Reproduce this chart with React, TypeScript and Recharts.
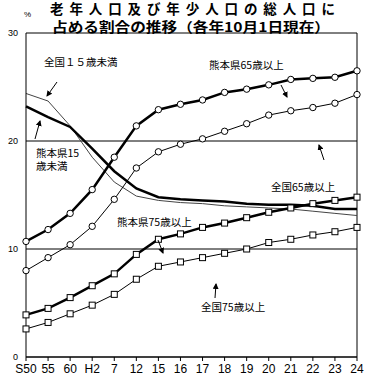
import { LineChart, Line, XAxis, YAxis, CartesianGrid, ReferenceLine } from "recharts";

const years = ["S50", "55", "60", "H2", "7", "12", "15", "16", "17", "18", "19", "20", "21", "22", "23", "24"];

// 熊本県 / 全国 (%)
const kumamoto65 = [10.7, 11.8, 13.3, 15.5, 18.5, 21.4, 22.9, 23.4, 23.8, 24.5, 24.8, 25.2, 25.7, 25.8, 25.9, 26.5];
const zenkoku65 = [8.0, 9.2, 10.4, 12.1, 14.6, 17.5, 19.0, 19.7, 20.2, 20.9, 21.6, 22.4, 22.8, 23.1, 23.5, 24.3];
const kumamoto75 = [3.9, 4.5, 5.5, 6.6, 7.7, 9.5, 10.9, 11.4, 12.0, 12.4, 12.9, 13.4, 13.8, 14.2, 14.5, 14.8];
const zenkoku75 = [2.6, 3.2, 4.0, 4.8, 5.8, 7.2, 8.4, 8.8, 9.2, 9.6, 10.0, 10.6, 10.9, 11.3, 11.6, 12.0];
const kumamoto15 = [23.2, 22.2, 21.3, 19.3, 17.2, 15.6, 14.8, 14.6, 14.5, 14.4, 14.2, 14.1, 14.1, 14.0, 13.7, 13.7];
const zenkoku15 = [24.4, 23.7, 21.4, 18.5, 16.2, 14.9, 14.5, 14.3, 14.2, 14.0, 13.9, 13.8, 13.7, 13.5, 13.3, 13.1];

const yTicks = [0, 10, 20, 30];

const data = years.map((y, i) => ({
  year: y,
  k65: kumamoto65[i],
  z65: zenkoku65[i],
  k75: kumamoto75[i],
  z75: zenkoku75[i],
  k15: kumamoto15[i],
  z15: zenkoku15[i],
}));

const circleDot = (props: any) => (
  <circle key={props.index} cx={props.cx} cy={props.cy} r={3.2} fill="#fff" stroke="#000" strokeWidth={1} />
);
const squareDot = (props: any) => (
  <rect key={props.index} x={props.cx - 3} y={props.cy - 3} width={6} height={6} fill="#fff" stroke="#000" strokeWidth={1} />
);

const jp = "'Noto Sans CJK JP', sans-serif";

function Arrow({ x1, y1, x2, y2 }: { x1: number; y1: number; x2: number; y2: number }) {
  return <line x1={x1} y1={y1} x2={x2} y2={y2} stroke="#000" strokeWidth={1} markerEnd="url(#ah)" />;
}

export default function App() {
  return (
    <div style={{ position: "absolute", left: 0, top: 0, width: 378, height: 386, background: "#fff" }}>
      <LineChart width={378} height={386} data={data} margin={{ top: 33, right: 21, bottom: 0, left: 0 }}>
        <CartesianGrid vertical={false} stroke="#000" strokeWidth={1} />
        <ReferenceLine x="24" stroke="#000" strokeWidth={1} />
        <XAxis
          dataKey="year"
          height={29}
          stroke="#000"
          tickSize={4}
          tickMargin={3}
          interval={0}
          tick={{ fill: "#000", fontSize: 12, fontFamily: "'Liberation Sans', sans-serif" }}
        />
        <YAxis
          domain={[0, 30]}
          ticks={yTicks}
          width={26}
          stroke="#000"
          tickLine={false}
          tickMargin={2}
          tick={{ fill: "#000", fontSize: 9, fontFamily: "'Liberation Sans', sans-serif" }}
        />
        <Line dataKey="z15" stroke="#444" strokeWidth={1} dot={false} isAnimationActive={false} />
        <Line dataKey="k15" stroke="#000" strokeWidth={2.5} dot={false} isAnimationActive={false} />
        <Line dataKey="z65" stroke="#000" strokeWidth={1} dot={circleDot} isAnimationActive={false} />
        <Line dataKey="k65" stroke="#000" strokeWidth={2.5} dot={circleDot} isAnimationActive={false} />
        <Line dataKey="z75" stroke="#000" strokeWidth={1} dot={squareDot} isAnimationActive={false} />
        <Line dataKey="k75" stroke="#000" strokeWidth={2.5} dot={squareDot} isAnimationActive={false} />
      </LineChart>
      <svg width={378} height={386} style={{ position: "absolute", left: 0, top: 0, pointerEvents: "none" }}>
        <defs>
          <marker id="ah" markerWidth="6" markerHeight="6" refX="5" refY="3" orient="auto">
            <path d="M0,0 L6,3 L0,6 Z" fill="#000" />
          </marker>
        </defs>
        <text x={50} y={14} fontSize={13.5} fontWeight="bold" fontFamily={jp} textLength={285} lengthAdjust="spacing">
          老年人口及び年少人口の総人口に
        </text>
        <text x={52} y={32} fontSize={13.5} fontWeight="bold" fontFamily={jp} textLength={278} lengthAdjust="spacingAndGlyphs">
          占める割合の推移（各年10月1日現在）
        </text>
        <text x={24} y={17} fontSize={8} fontFamily="'Liberation Sans', sans-serif">%</text>

        <g fontSize={10.5} fontFamily={jp} fill="#000">
          <text x={44} y={66}>全国１５歳未満</text>
          <text x={36} y={157}>熊本県15</text>
          <text x={36} y={170}>歳未満</text>
          <text x={209} y={69}>熊本県65歳以上</text>
          <text x={271} y={191}>全国65歳以上</text>
          <text x={117} y={226}>熊本県75歳以上</text>
          <text x={201} y={311}>全国75歳以上</text>
        </g>
        <Arrow x1={57} y1={82} x2={47} y2={96} />
        <Arrow x1={35} y1={139} x2={40} y2={121} />
        <Arrow x1={281} y1={85} x2={287} y2={97} />
        <Arrow x1={324} y1={160} x2={319} y2={145} />
        <Arrow x1={158} y1={240} x2={163} y2={253} />
        <Arrow x1={215} y1={298} x2={216} y2={284} />
      </svg>
    </div>
  );
}
